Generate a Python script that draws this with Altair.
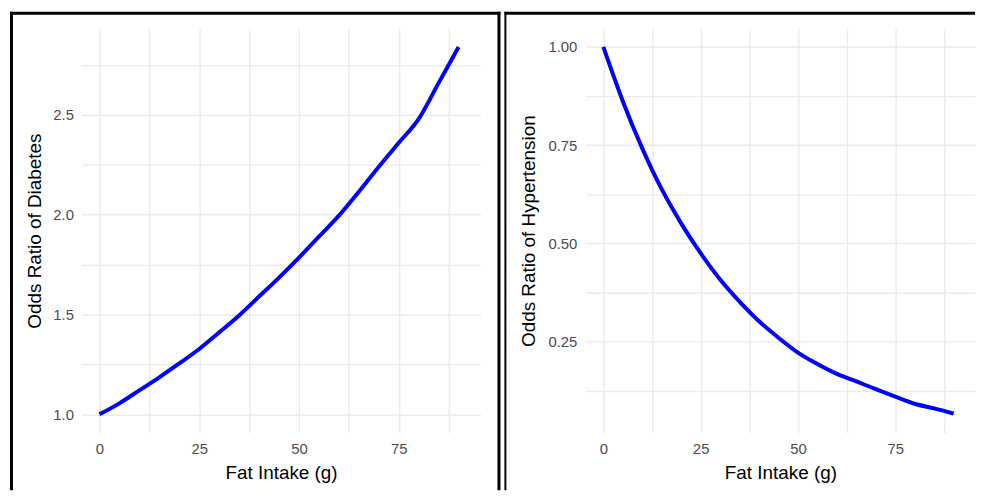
import altair as alt
import pandas as pd

# ---- data ----
fat_intake = [0, 5, 10, 15, 20, 25, 30, 35, 40, 45, 50, 55, 60, 65, 70, 75, 80, 85, 90]
or_diabetes = [1.00, 1.055, 1.12, 1.185, 1.255, 1.327, 1.41, 1.495, 1.59, 1.685,
               1.785, 1.89, 1.995, 2.115, 2.24, 2.36, 2.48, 2.66, 2.84]
or_hypertension = [1.00, 0.862, 0.742, 0.638, 0.551, 0.475, 0.408, 0.352, 0.302, 0.26,
                   0.222, 0.193, 0.168, 0.149, 0.129, 0.110, 0.092, 0.080, 0.067]

x_grid = [0, 12.5, 25, 37.5, 50, 62.5, 75, 87.5]
y_grid_diab = [1.0, 1.25, 1.5, 1.75, 2.0, 2.25, 2.5, 2.75]
y_grid_hyp = [0.125, 0.25, 0.375, 0.5, 0.625, 0.75, 0.875, 1.0]

df_d = pd.DataFrame({"fat": fat_intake, "odds": or_diabetes})
df_h = pd.DataFrame({"fat": fat_intake, "odds": or_hypertension})

FONT = "Liberation Sans"
LINE_BLUE = "#0000FF"


def x_enc():
    return alt.X(
        "fat:Q",
        scale=alt.Scale(domain=[-4.5, 95.5], nice=False, zero=False),
        axis=alt.Axis(
            title="Fat Intake (g)",
            values=x_grid,
            labelExpr="datum.value % 25 == 0 ? datum.label : ''",
            labelOverlap=False,
            labelFlush=False,
            labelPadding=9,
            titlePadding=7,
        ),
    )


def rule(width, **enc):
    return alt.Chart(pd.DataFrame({"a": [0]})).mark_rule(
        color="black", strokeWidth=width
    ).encode(**enc)


W1, W2, H = 402, 392, 407
TOP, BOTTOM = -15.5, 465

left_line = alt.Chart(df_d).mark_line(
    color=LINE_BLUE, strokeWidth=4, interpolate="monotone"
).encode(
    x=x_enc(),
    y=alt.Y(
        "odds:Q",
        scale=alt.Scale(domain=[0.908, 2.932], nice=False, zero=False),
        axis=alt.Axis(
            title="Odds Ratio of Diabetes",
            values=y_grid_diab,
            format=".1f",
            labelExpr="(datum.value * 4) % 2 == 0 ? datum.label : ''",
            labelOverlap=False,
            labelFlush=False,
            labelPadding=8,
            titlePadding=8,
        ),
    ),
)

right_line = alt.Chart(df_h).mark_line(
    color=LINE_BLUE, strokeWidth=4, interpolate="monotone"
).encode(
    x=x_enc(),
    y=alt.Y(
        "odds:Q",
        scale=alt.Scale(domain=[0.0183, 1.0467], nice=False, zero=False),
        axis=alt.Axis(
            title="Odds Ratio of Hypertension",
            values=y_grid_hyp,
            format=".2f",
            labelExpr="(datum.value * 8) % 2 == 0 ? datum.label : ''",
            labelOverlap=False,
            labelFlush=False,
            labelPadding=9,
            titlePadding=10,
        ),
    ),
)

# decorative panel frames (fixed pixel positions, not data)
left_panel = alt.layer(
    left_line,
    rule(3, x=alt.value(-70.5), y=alt.value(TOP - 1.5), y2=alt.value(BOTTOM)),
    rule(3, y=alt.value(TOP), x=alt.value(-72), x2=alt.value(422)),
    rule(3, x=alt.value(420.5), y=alt.value(TOP - 1.5), y2=alt.value(BOTTOM)),
).properties(width=W1, height=H)

right_panel = alt.layer(
    right_line,
    rule(2, x=alt.value(-81), y=alt.value(TOP - 1.5), y2=alt.value(BOTTOM)),
    rule(3, y=alt.value(TOP), x=alt.value(-82), x2=alt.value(W2)),
).properties(width=W2, height=H)

chart = (
    alt.hconcat(left_panel, right_panel, spacing=0)
    .properties(padding=0, background="white")
    .configure_view(stroke=None)
    .configure_axis(
        grid=True,
        gridColor="#EBEBEB",
        gridWidth=1.4,
        domain=False,
        ticks=False,
        labelFont=FONT,
        labelFontSize=15,
        labelColor="#4D4D4D",
        titleFont=FONT,
        titleFontSize=19,
        titleFontWeight="normal",
        titleColor="black",
    )
)

chart.save("out.html", embed_options={"renderer": "svg", "actions": False})
